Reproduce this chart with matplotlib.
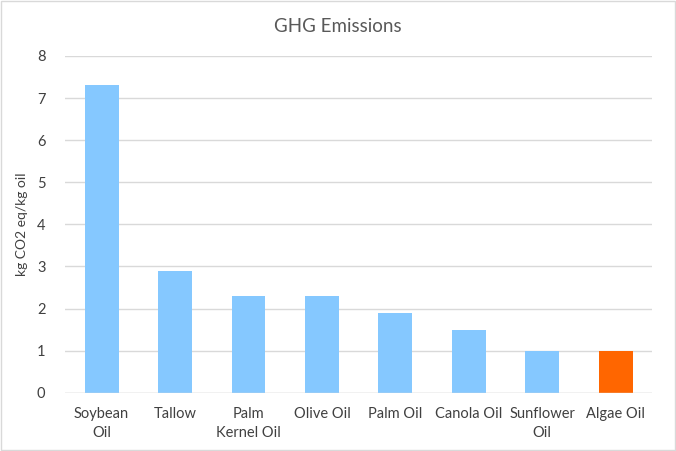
import matplotlib
matplotlib.use("Agg")
import matplotlib.pyplot as plt
from matplotlib.patches import Rectangle

plt.rcParams['font.family'] = ['Lato', 'DejaVu Sans']

oils = ["Soybean\nOil", "Tallow", "Palm\nKernel Oil", "Olive Oil", "Palm Oil",
        "Canola Oil", "Sunflower\nOil", "Algae Oil"]
ghg = [7.3, 2.9, 2.3, 2.3, 1.9, 1.5, 1.0, 1.0]
colors = ["#85C8FF"] * 7 + ["#FF6600"]

fig = plt.figure(figsize=(6.76, 4.51), dpi=100)
ax = fig.add_axes([0.096, 0.129, 0.869, 0.747])

x = range(len(oils))
ax.bar(x, ghg, width=0.46, color=colors, zorder=3)
ax.set_xlim(-0.5, len(oils) - 0.5)
ax.set_ylim(0, 8)
ax.set_yticks(range(0, 9))
ax.set_xticks(list(x))
ax.set_xticklabels(oils, fontsize=10.5, color="#404040", linespacing=1.5)
ax.tick_params(axis='y', labelsize=10.5, colors="#404040", length=0, pad=14)
ax.tick_params(axis='x', length=0, pad=10)
ax.grid(axis='y', color="#D9D9D9", linewidth=1, zorder=0)
for s in ax.spines.values():
    s.set_visible(False)
ax.axhline(0, color="#D9D9D9", linewidth=1, zorder=4)

ax.set_ylabel("kg CO2 eq/kg oil", fontsize=10, color="#404040", labelpad=6)
fig.text(0.5, 0.942, "GHG Emissions", ha='center', va='center', fontsize=13.5, color="#595959")

fig.patches.append(Rectangle((0.002, 0.003), 0.996, 0.994, transform=fig.transFigure,
                             fill=False, edgecolor="#D9D9D9", linewidth=1))

fig.savefig("out.png", dpi=100)
